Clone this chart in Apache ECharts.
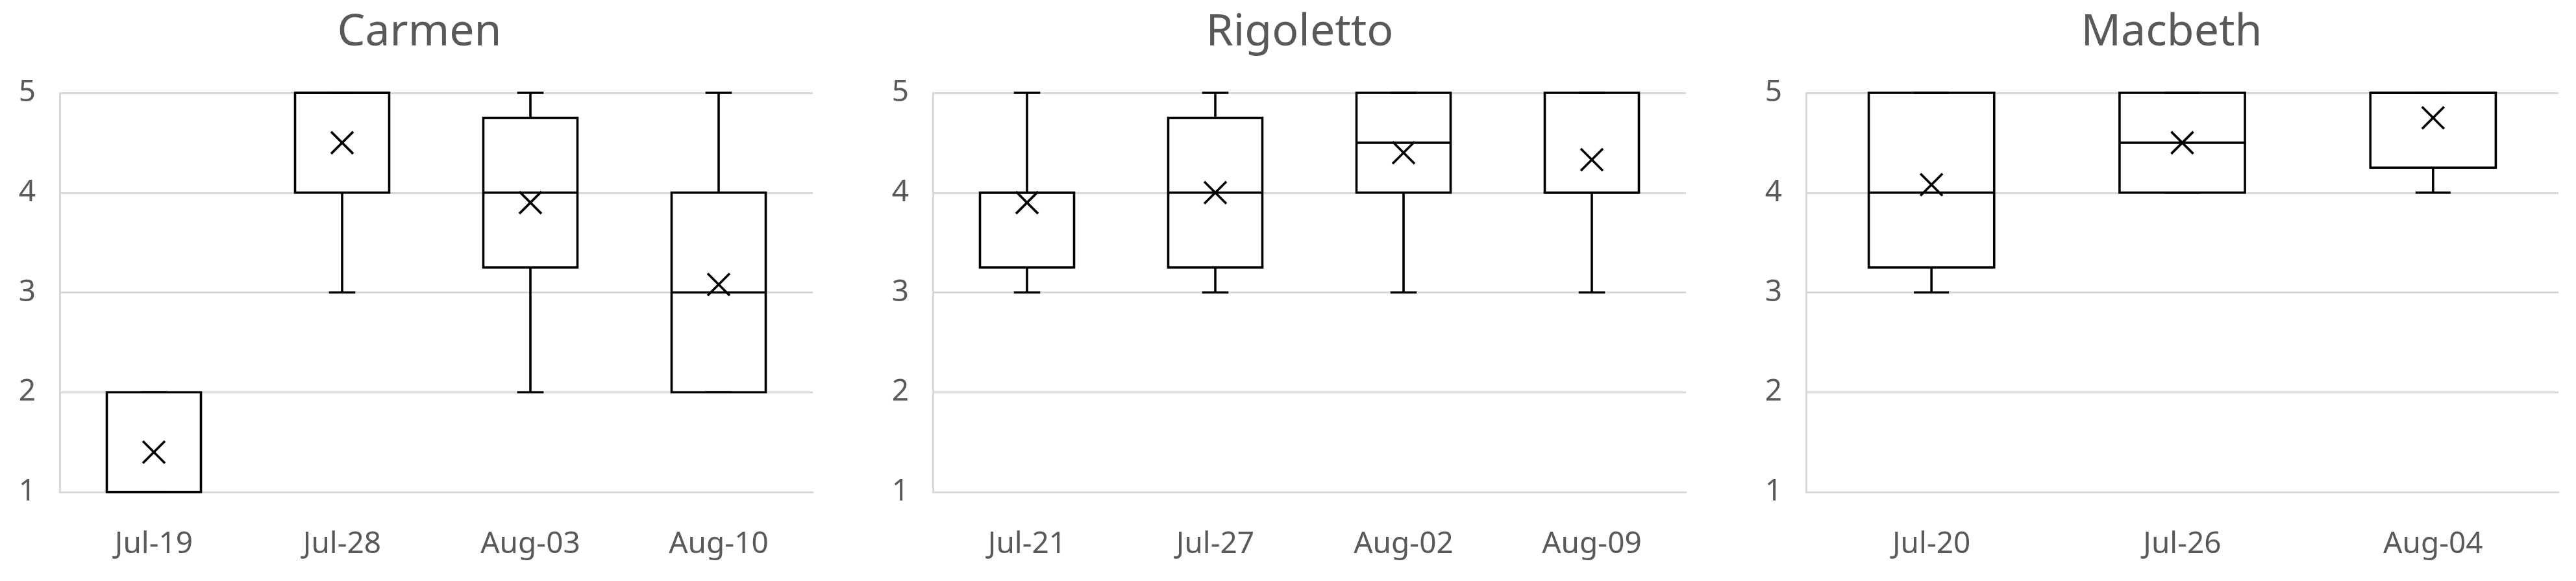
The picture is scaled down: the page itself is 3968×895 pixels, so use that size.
<!DOCTYPE html>
<html>
<head>
<meta charset="utf-8">
<script src="https://cdn.jsdelivr.net/npm/echarts@6/dist/echarts.min.js"></script>
<style>
  html, body { margin: 0; padding: 0; background: #ffffff; }
  #chart { width: 3968px; height: 895px; }
</style>
</head>
<body>
<div id="chart"></div>
<script>
// ---- Data ----
const panelTitles = ['Carmen', 'Rigoletto', 'Macbeth'];
const yTicks = [1, 2, 3, 4, 5];

const carmenDates  = ['Jul-19', 'Jul-28', 'Aug-03', 'Aug-10'];
const carmenMin    = [1, 3, 2, 2];
const carmenQ1     = [1, 4, 3.25, 2];
const carmenMedian = [1, 5, 4, 3];
const carmenQ3     = [2, 5, 4.75, 4];
const carmenMax    = [2, 5, 5, 5];
const carmenMean   = [1.4, 4.5, 3.9, 3.08];

const rigolettoDates  = ['Jul-21', 'Jul-27', 'Aug-02', 'Aug-09'];
const rigolettoMin    = [3, 3, 3, 3];
const rigolettoQ1     = [3.25, 3.25, 4, 4];
const rigolettoMedian = [4, 4, 4.5, 4];
const rigolettoQ3     = [4, 4.75, 5, 5];
const rigolettoMax    = [5, 5, 5, 5];
const rigolettoMean   = [3.9, 4.0, 4.4, 4.33];

const macbethDates  = ['Jul-20', 'Jul-26', 'Aug-04'];
const macbethMin    = [3, 4, 4];
const macbethQ1     = [3.25, 4, 4.25];
const macbethMedian = [4, 4.5, 5];
const macbethQ3     = [5, 5, 5];
const macbethMax    = [5, 5, 5];
const macbethMean   = [4.08, 4.5, 4.75];

// ---- Build ----
const panels = [
  { dates: carmenDates, min: carmenMin, q1: carmenQ1, med: carmenMedian, q3: carmenQ3, max: carmenMax, mean: carmenMean },
  { dates: rigolettoDates, min: rigolettoMin, q1: rigolettoQ1, med: rigolettoMedian, q3: rigolettoQ3, max: rigolettoMax, mean: rigolettoMean },
  { dates: macbethDates, min: macbethMin, q1: macbethQ1, med: macbethMedian, q3: macbethQ3, max: macbethMax, mean: macbethMean }
];

const gridLefts  = [92, 1437, 2782];
const gridWidths = [1160, 1160, 1159];
const titleCenters = [641, 1997, 3340];
const GRID_TOP = 143, GRID_HEIGHT = 615;
const LABEL_COLOR = '#595959';
const GRIDLINE = '#d9d9d9';
const FONT = '"Noto Sans", "Open Sans", sans-serif';

const chart = echarts.init(document.getElementById('chart'), null, { renderer: 'canvas' });

function renderBox(params, api) {
  const i = api.value(0);
  const cx = api.coord([i, api.value(1)])[0];
  const yMin = api.coord([i, api.value(1)])[1];
  const yQ1 = api.coord([i, api.value(2)])[1];
  const yMed = api.coord([i, api.value(3)])[1];
  const yQ3 = api.coord([i, api.value(4)])[1];
  const yMax = api.coord([i, api.value(5)])[1];
  const yMean = api.coord([i, api.value(6)])[1];
  const band = api.size([1, 0])[0];
  const bw = band * 0.5;
  const cap = bw * 0.28;
  const xs = 17;
  const style = { stroke: '#000000', lineWidth: 3.6, fill: null };
  const line = (x1, y1, x2, y2) => ({ type: 'line', shape: { x1, y1, x2, y2 }, style });
  return {
    type: 'group',
    children: [
      line(cx, yMax, cx, yQ3),
      line(cx, yQ1, cx, yMin),
      line(cx - cap / 2, yMax, cx + cap / 2, yMax),
      line(cx - cap / 2, yMin, cx + cap / 2, yMin),
      { type: 'rect', shape: { x: cx - bw / 2, y: yQ3, width: bw, height: yQ1 - yQ3 }, style: { stroke: '#000000', lineWidth: 3.6, fill: null } },
      line(cx - bw / 2, yMed, cx + bw / 2, yMed),
      line(cx - xs, yMean - xs, cx + xs, yMean + xs),
      line(cx - xs, yMean + xs, cx + xs, yMean - xs)
    ]
  };
}

const option = {
  backgroundColor: '#ffffff',
  animation: false,
  title: panelTitles.map((t, k) => ({
    text: t,
    left: titleCenters[k],
    top: 12,
    textAlign: 'center',
    textStyle: { fontFamily: FONT, fontSize: 68, fontWeight: 'normal', color: LABEL_COLOR }
  })),
  grid: panels.map((p, k) => ({
    left: gridLefts[k], width: gridWidths[k], top: GRID_TOP, height: GRID_HEIGHT, containLabel: false
  })),
  xAxis: panels.map((p, k) => ({
    type: 'category',
    gridIndex: k,
    data: p.dates,
    boundaryGap: true,
    axisLine: { show: true, lineStyle: { color: GRIDLINE, width: 3 } },
    axisTick: { show: false },
    splitLine: { show: false },
    axisLabel: { margin: 58, fontFamily: FONT, fontSize: 46, color: LABEL_COLOR }
  })),
  yAxis: panels.map((p, k) => ({
    type: 'value',
    gridIndex: k,
    min: yTicks[0],
    max: yTicks[yTicks.length - 1],
    interval: 1,
    axisLine: { show: true, lineStyle: { color: GRIDLINE, width: 3 } },
    axisTick: { show: false },
    splitLine: { show: true, lineStyle: { color: GRIDLINE, width: 3 } },
    axisLabel: { margin: 37, fontFamily: FONT, fontSize: 46, color: LABEL_COLOR }
  })),
  series: panels.map((p, k) => ({
    type: 'custom',
    xAxisIndex: k,
    yAxisIndex: k,
    renderItem: renderBox,
    encode: { x: 0, y: [1, 2, 3, 4, 5, 6] },
    data: p.dates.map((d, i) => [i, p.min[i], p.q1[i], p.med[i], p.q3[i], p.max[i], p.mean[i]]),
    clip: false,
    z: 5
  }))
};

chart.setOption(option);
</script>
</body>
</html>
